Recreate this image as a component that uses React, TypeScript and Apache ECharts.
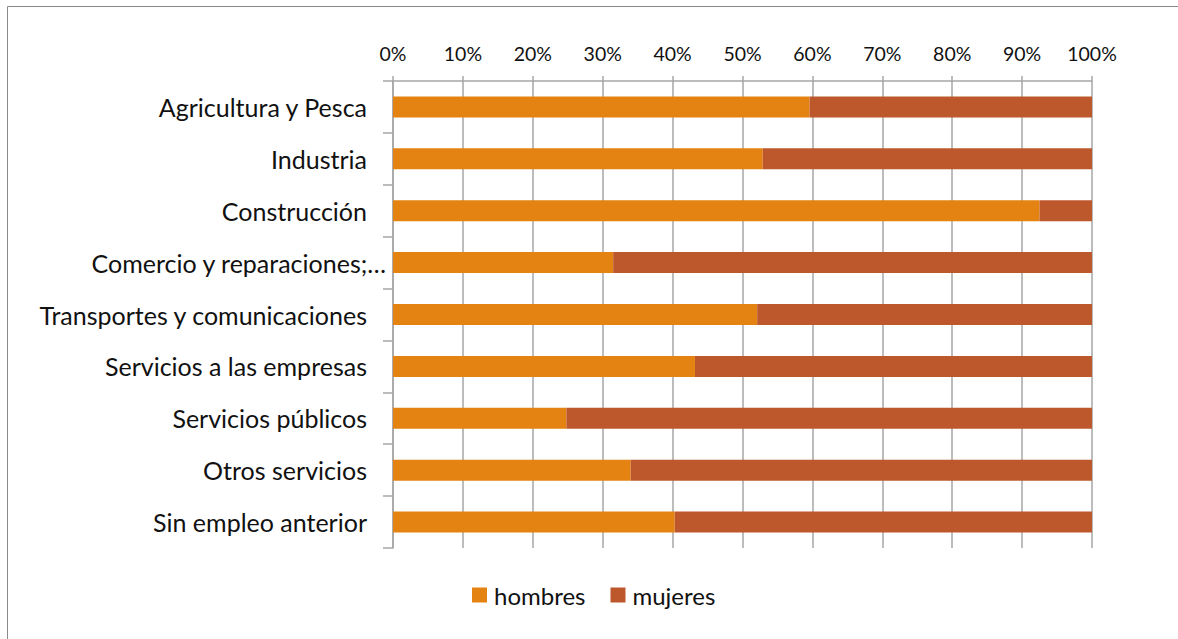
import React, { useEffect, useRef } from "react";
import * as echarts from "echarts";

const categories = [
  "Agricultura y Pesca",
  "Industria",
  "Construcción",
  "Comercio y reparaciones;…",
  "Transportes y comunicaciones",
  "Servicios a las empresas",
  "Servicios públicos",
  "Otros servicios",
  "Sin empleo anterior",
];
const hombres = [59.6, 52.9, 92.5, 31.5, 52.1, 43.2, 24.8, 34.0, 40.3];
const mujeres = [40.4, 47.1, 7.5, 68.5, 47.9, 56.8, 75.2, 66.0, 59.7];
const seriesNames = ["hombres", "mujeres"];
const FONT = "Lato";

export default function App() {
  const ref = useRef<HTMLDivElement>(null);
  useEffect(() => {
    if (!ref.current) return;
    const chart = echarts.init(ref.current, null, { renderer: "svg" });
    chart.setOption({
      animation: false,
      backgroundColor: "#ffffff",
      textStyle: { fontFamily: FONT },
      graphic: [
        {
          type: "rect",
          shape: { x: 7.5, y: 6.5, width: 1400, height: 900 },
          style: { fill: "none", stroke: "#8a8a8a", lineWidth: 1 },
          silent: true,
        },
      ],
      grid: { left: 393, right: 86, top: 81, bottom: 91 },
      legend: {
        left: 467,
        top: 578,
        itemWidth: 15,
        itemHeight: 15,
        itemGap: 25,
        icon: "rect",
        textStyle: { fontFamily: FONT, fontSize: 24, color: "#111", padding: [0, 0, 0, 2] },
        data: seriesNames,
      },
      xAxis: {
        type: "value",
        position: "top",
        min: 0,
        max: 100,
        interval: 10,
        axisLine: { show: true, lineStyle: { color: "#a6a6a6", width: 1.5 } },
        axisTick: { show: true, length: 5, lineStyle: { color: "#a6a6a6", width: 1.5 } },
        splitLine: { show: true, lineStyle: { color: "#a6a6a6", width: 1.5 } },
        axisLabel: {
          formatter: "{value}%",
          fontFamily: FONT,
          fontSize: 19.5,
          color: "#111",
          margin: 18,
        },
      },
      yAxis: {
        type: "category",
        inverse: true,
        data: categories,
        axisLine: { show: true, lineStyle: { color: "#a6a6a6", width: 1.5 } },
        axisTick: { show: true, length: 10, alignWithLabel: false, lineStyle: { color: "#a6a6a6", width: 1.5 } },
        axisLabel: {
          margin: 7,
          formatter: (v: string) => (v.endsWith("…") ? `{n|${v}}` : `{n|${v}}{s|}`),
          rich: {
            n: { fontFamily: FONT, fontSize: 25, color: "#111" },
            s: { width: 19 },
          },
        },
      },
      series: [
        {
          name: seriesNames[0],
          type: "bar",
          stack: "total",
          barWidth: 21,
          data: hombres,
          itemStyle: { color: "#E48312" },
        },
        {
          name: seriesNames[1],
          type: "bar",
          stack: "total",
          barWidth: 21,
          data: mujeres,
          itemStyle: { color: "#BD582C" },
        },
      ],
    });
    return () => chart.dispose();
  }, []);
  return (
    <div
      ref={ref}
      style={{ position: "fixed", left: 0, top: 0, width: 1178, height: 639 }}
    />
  );
}
